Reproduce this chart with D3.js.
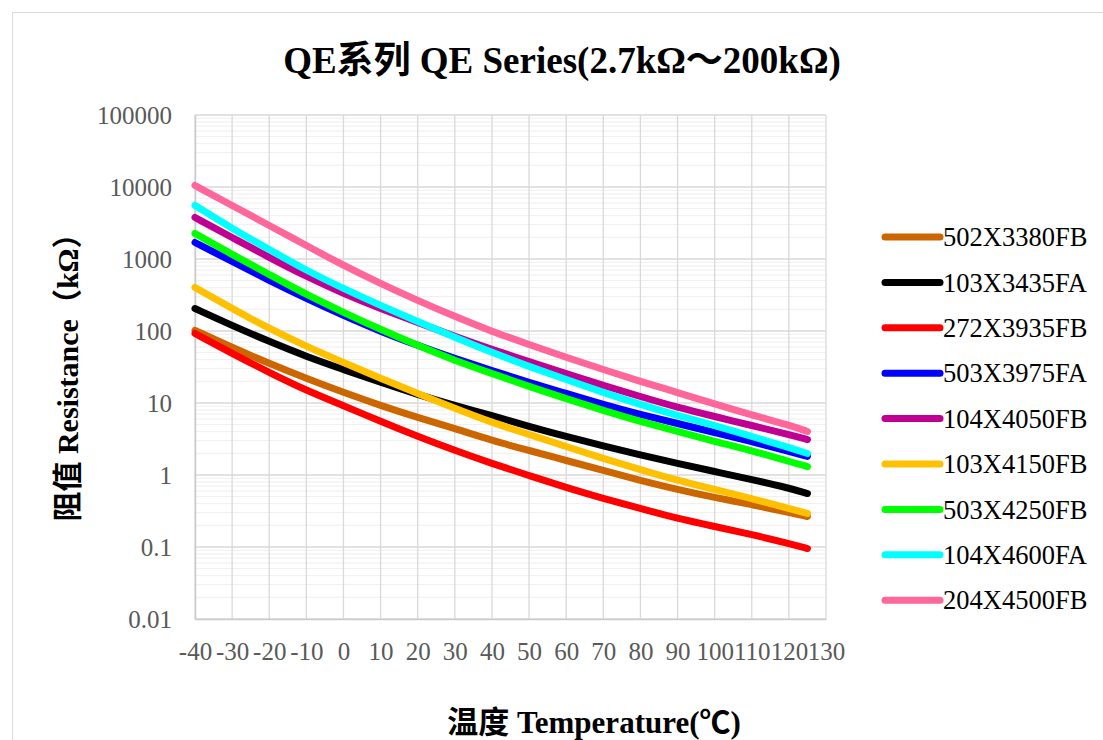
<!DOCTYPE html>
<html>
<head>
<meta charset="utf-8">
<script src="https://cdn.jsdelivr.net/npm/d3@7"></script>
<style>
  body { margin: 0; background: #fff; }
  svg { display: block; }
  text { font-family: "Liberation Serif", "Times New Roman", "Noto Sans CJK SC", serif; }
</style>
</head>
<body>
<svg id="chart" width="1103" height="740"></svg>
<script>
// temperatures (℃) read along the x axis
const temps = [-40, -30, -20, -10, 0, 10, 20, 30, 40, 50, 60, 70, 80, 90, 100, 110, 120, 125];

// resistance (kΩ) for each part
const r502X3380FB = [102, 59.0, 35.4, 21.9, 14.0, 9.23, 6.29, 4.42, 3.01, 2.19, 1.59, 1.155, 0.839, 0.629, 0.487, 0.389, 0.301, 0.265];
const r103X3435FA = [205, 119, 71.5, 44.2, 29.2, 19.3, 13.1, 9.23, 6.70, 4.72, 3.43, 2.53, 1.90, 1.445, 1.118, 0.866, 0.660, 0.553];
const r272X3935FB = [92.3, 48.7, 26.5, 14.9, 9.23, 5.53, 3.43, 2.19, 1.445, 0.984, 0.670, 0.472, 0.343, 0.249, 0.193, 0.149, 0.112, 0.0953];
const r503X3975FA = [1695, 923, 503, 283, 164, 98.4, 62.9, 41.5, 28.3, 19.3, 13.6, 9.53, 6.92, 5.19, 3.89, 2.92, 2.12, 1.81];
const r104X4050FB = [3770, 1990, 1050, 571, 332, 205, 131, 83.9, 55.3, 37.7, 25.7, 17.5, 12.3, 8.66, 6.49, 4.87, 3.65, 3.11];
const r103X4150FB = [402, 205, 108, 60.9, 36.5, 21.9, 13.6, 8.39, 5.36, 3.65, 2.49, 1.69, 1.19, 0.839, 0.629, 0.472, 0.343, 0.292];
const r503X4250FB = [2260, 1155, 609, 321, 181, 105, 62.9, 38.9, 25.7, 16.9, 11.5, 7.87, 5.53, 4.02, 2.92, 2.19, 1.54, 1.31];
const r104X4600FA = [5540, 2650, 1355, 692, 389, 226, 135.5, 81.3, 50.3, 32.1, 21.2, 14.0, 9.53, 6.70, 4.87, 3.43, 2.41, 1.99];
const r204X4500FB = [10500, 5540, 2920, 1540, 812, 457, 265, 159, 98.4, 64.9, 42.9, 29.2, 19.9, 14.0, 9.7, 6.8, 4.95, 4.02];

const seriesNames = ['502X3380FB', '103X3435FA', '272X3935FB', '503X3975FA', '104X4050FB',
                     '103X4150FB', '503X4250FB', '104X4600FA', '204X4500FB'];
const seriesValues = [r502X3380FB, r103X3435FA, r272X3935FB, r503X3975FA, r104X4050FB,
                      r103X4150FB, r503X4250FB, r104X4600FA, r204X4500FB];
const seriesColors = ['#CC6600', '#000000', '#FF0000', '#0000FF', '#C00092',
                      '#FFC000', '#00FF00', '#00FFFF', '#FF6699'];

const xTicks = d3.range(-40, 131, 10);
const yTicks = [0.01, 0.1, 1, 10, 100, 1000, 10000, 100000];
const yTickLabels = ['0.01', '0.1', '1', '10', '100', '1000', '10000', '100000'];

const svg = d3.select('#chart');

// chart frame
svg.append('rect')
  .attr('x', 12.5).attr('y', 12.5)
  .attr('width', 1100).attr('height', 740)
  .attr('fill', '#fff').attr('stroke', '#d9d9d9');

const x = d3.scaleLinear().domain([-40, 130]).range([195, 826]);
const y = d3.scaleLog().domain([0.01, 100000]).range([619, 115]);

// minor horizontal grid
const minor = y.ticks().filter(v => !yTicks.some(t => Math.abs(t - v) / t < 1e-9));
svg.append('g')
  .selectAll('line')
  .data(minor)
  .join('line')
  .attr('x1', x(-40)).attr('x2', x(130))
  .attr('y1', d => y(d)).attr('y2', d => y(d))
  .attr('stroke', '#efefef').attr('stroke-width', 1);

// major grid
svg.append('g')
  .selectAll('line')
  .data(yTicks)
  .join('line')
  .attr('x1', x(-40)).attr('x2', x(130))
  .attr('y1', d => y(d)).attr('y2', d => y(d))
  .attr('stroke', '#d9d9d9').attr('stroke-width', 1.3);

svg.append('g')
  .selectAll('line')
  .data(xTicks)
  .join('line')
  .attr('x1', d => x(d)).attr('x2', d => x(d))
  .attr('y1', y(100000)).attr('y2', y(0.01))
  .attr('stroke', '#d9d9d9').attr('stroke-width', 1.3);

// axes
const yAxis = svg.append('g')
  .attr('transform', `translate(${x(-40)},0)`)
  .call(d3.axisLeft(y).tickValues(yTicks).tickFormat((d, i) => yTickLabels[i]).tickSize(0).tickPadding(23));
yAxis.select('.domain').attr('stroke', '#cccccc').attr('stroke-width', 1.5);
yAxis.selectAll('text')
  .attr('font-size', 25).attr('fill', '#595959')
  .style('font-family', '"Liberation Serif", serif');

const xAxis = svg.append('g')
  .attr('transform', `translate(0,${y(0.01)})`)
  .call(d3.axisBottom(x).tickValues(xTicks).tickFormat(d3.format('d')).tickSize(0).tickPadding(23));
xAxis.select('.domain').attr('stroke', '#cccccc').attr('stroke-width', 1.5);
xAxis.selectAll('text')
  .attr('font-size', 25).attr('fill', '#595959')
  .style('font-family', '"Liberation Serif", serif')
  .text(d => (d < 0 ? '-' + Math.abs(d) : d));

// curves
const line = d3.line()
  .x(d => x(d[0]))
  .y(d => y(d[1]))
  .curve(d3.curveBasis);

svg.append('g')
  .selectAll('path')
  .data(seriesValues)
  .join('path')
  .attr('d', vals => line(temps.map((t, i) => [t, vals[i]])))
  .attr('fill', 'none')
  .attr('stroke', (d, i) => seriesColors[i])
  .attr('stroke-width', 7)
  .attr('stroke-linecap', 'round')
  .attr('stroke-linejoin', 'round');

// legend
const legend = svg.append('g').attr('transform', 'translate(885,237)');
const item = legend.selectAll('g')
  .data(seriesNames)
  .join('g')
  .attr('transform', (d, i) => `translate(0,${i * 45.4})`);
item.append('line')
  .attr('x1', 0).attr('x2', 55)
  .attr('stroke', (d, i) => seriesColors[i])
  .attr('stroke-width', 7)
  .attr('stroke-linecap', 'round');
item.append('text')
  .attr('x', 58).attr('dy', '0.35em')
  .attr('font-size', 26.5)
  .attr('fill', '#000')
  .text(d => d);

// titles
svg.append('text')
  .attr('x', 562).attr('y', 73)
  .attr('text-anchor', 'middle')
  .attr('font-size', 37).attr('font-weight', 'bold')
  .text('QE系列 QE Series(2.7kΩ～200kΩ)');

svg.append('text')
  .attr('transform', 'translate(78,370) rotate(-90)')
  .attr('text-anchor', 'middle')
  .attr('font-size', 30).attr('font-weight', 'bold')
  .text('阻值 Resistance（kΩ）');

svg.append('text')
  .attr('x', 594).attr('y', 733)
  .attr('text-anchor', 'middle')
  .attr('font-size', 31).attr('font-weight', 'bold')
  .text('温度 Temperature(℃)');
</script>
</body>
</html>
